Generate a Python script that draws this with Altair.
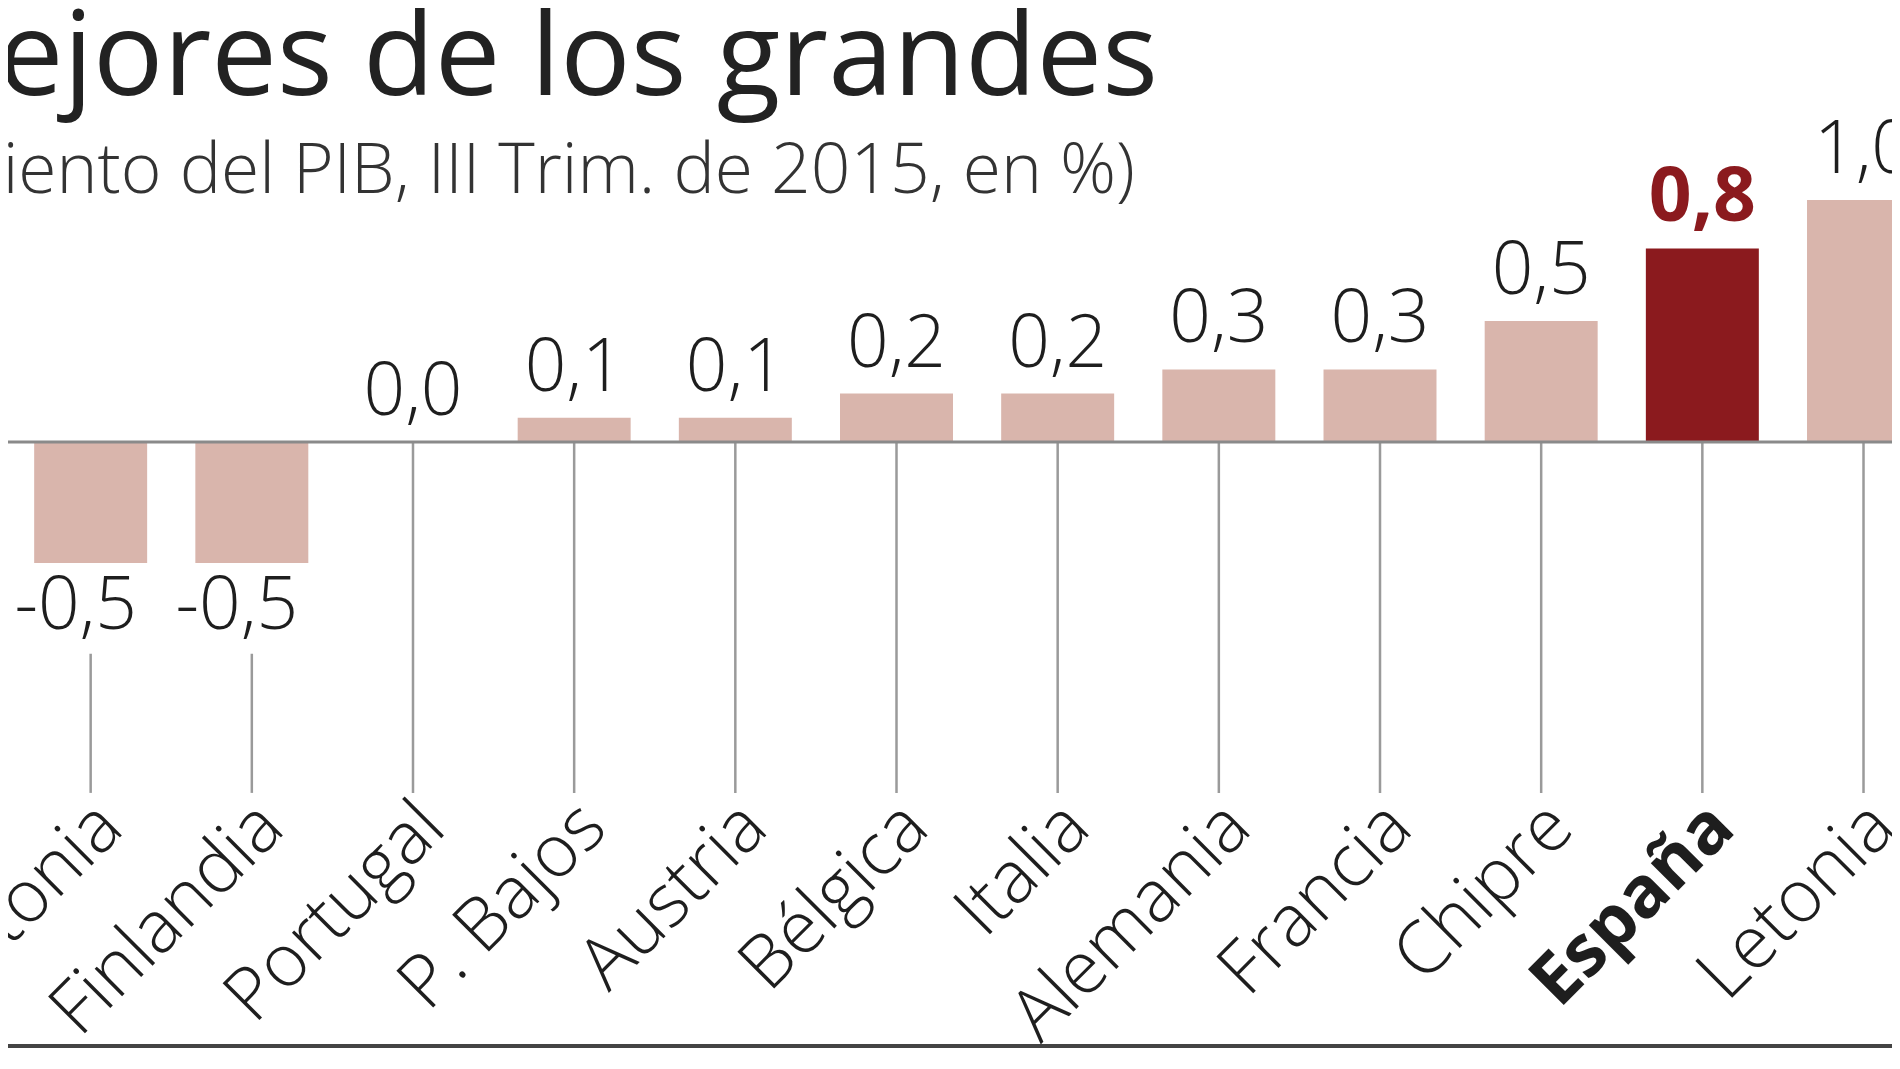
import altair as alt
import pandas as pd

# ---- data ----
countries = ["Grecia", "Estonia", "Finlandia", "Portugal", "P. Bajos", "Austria",
             "Bélgica", "Italia", "Alemania", "Francia", "Chipre", "España", "Letonia"]
growth = [-0.9, -0.5, -0.5, 0.0, 0.1, 0.1, 0.2, 0.2, 0.3, 0.3, 0.5, 0.8, 1.0]
highlighted = "España"

title_text = "Los mejores de los grandes"
subtitle_text = "(Crecimiento del PIB, III Trim. de 2015, en %)"

# ---- styles ----
W, H = 1884, 1040
FONT = "Open Sans"
PINK = "#d9b5ac"
DARK = "#8b1a1e"
TXT = "#1e1e1e"
GRID = "#9a9a9a"

df = pd.DataFrame({"pais": countries, "pib": growth})
df["destacado"] = df["pais"] == highlighted
df["etiqueta"] = df["pib"].map(lambda v: f"{v:.1f}".replace(".", ","))

xs = alt.X("pais:N", sort=countries, axis=None,
           scale=alt.Scale(domain=countries, range=[-135, 1912],
                           paddingInner=0.299, paddingOuter=0))
ysc = alt.Scale(domain=[-1, 1], range=[676, 192], nice=False, zero=False)

base = alt.Chart(df)

ticks = base.transform_calculate(
    y0="datum.pib < 0 ? datum.pib - 0.375 : 0", y1="-1.45"
).mark_rule(color=GRID, strokeWidth=2.5).encode(
    x=xs,
    y=alt.Y("y0:Q", scale=ysc, axis=None),
    y2="y1:Q",
)

bars = base.transform_calculate(cero="0").mark_bar().encode(
    x=xs,
    y=alt.Y("pib:Q", scale=ysc, axis=None),
    y2="cero:Q",
    color=alt.condition("datum.destacado", alt.value(DARK), alt.value(PINK)),
)

pos_labels = base.transform_filter("datum.pib >= 0 && !datum.destacado").mark_text(
    font=FONT, fontSize=73, fontWeight=300, color=TXT, align="center",
    baseline="alphabetic", dy=-27
).encode(x=xs, y=alt.Y("pib:Q", scale=ysc, axis=None), text="etiqueta:N")

hl_label = base.transform_filter("datum.destacado").mark_text(
    font=FONT, fontSize=75, fontWeight="bold", color=DARK, align="center",
    baseline="alphabetic", dy=-27
).encode(x=xs, y=alt.Y("pib:Q", scale=ysc, axis=None), text="etiqueta:N")

neg_labels = base.transform_filter("datum.pib < 0").mark_text(
    font=FONT, fontSize=73, fontWeight=300, color=TXT, align="center",
    baseline="alphabetic", dy=66, dx=-15
).encode(x=xs, y=alt.Y("pib:Q", scale=ysc, axis=None), text="etiqueta:N")

cat_labels = base.transform_filter("!datum.destacado").transform_calculate(
    yb="-1.45"
).mark_text(
    font=FONT, fontSize=73, fontWeight=300, color=TXT, angle=315, align="right",
    baseline="alphabetic", dx=-2, dy=52
).encode(x=xs, y=alt.Y("yb:Q", scale=ysc, axis=None), text="pais:N")

cat_hl = base.transform_filter("datum.destacado").transform_calculate(
    yb="-1.45"
).mark_text(
    font=FONT, fontSize=71, fontWeight="bold", color=TXT, angle=315, align="right",
    baseline="alphabetic", dx=-2, dy=52
).encode(x=xs, y=alt.Y("yb:Q", scale=ysc, axis=None), text="pais:N")

zero_line = base.transform_aggregate(n="count()").transform_calculate(cero="0").mark_rule(
    color="#8a8a8a", strokeWidth=3
).encode(
    y=alt.Y("cero:Q", scale=ysc, axis=None),
    x=alt.value(0), x2=alt.value(W),
)

title = alt.Chart(pd.DataFrame({"t": [title_text]})).mark_text(
    font=FONT, fontSize=117, color="#222222", align="right", baseline="alphabetic"
).encode(x=alt.value(1150), y=alt.value(87), text="t:N")

subtitle = alt.Chart(pd.DataFrame({"t": [subtitle_text]})).mark_text(
    font=FONT, fontSize=69.5, fontWeight=300, color="#333333", align="right",
    baseline="alphabetic"
).encode(x=alt.value(1127), y=alt.value(185), text="t:N")

border = alt.Chart(pd.DataFrame({"t": [0]})).mark_rule(color="#444444", strokeWidth=4).encode(
    x=alt.value(0), x2=alt.value(W), y=alt.value(H - 2)
)

chart = alt.layer(
    ticks, bars, zero_line, pos_labels, hl_label, neg_labels, cat_labels, cat_hl,
    title, subtitle, border
).properties(
    width=W, height=H, padding=0,
    autosize=alt.AutoSizeParams(type="none"),
    background="white",
).configure_view(stroke=None)

chart.save("out.html", embed_options={"renderer": "svg", "actions": False})
